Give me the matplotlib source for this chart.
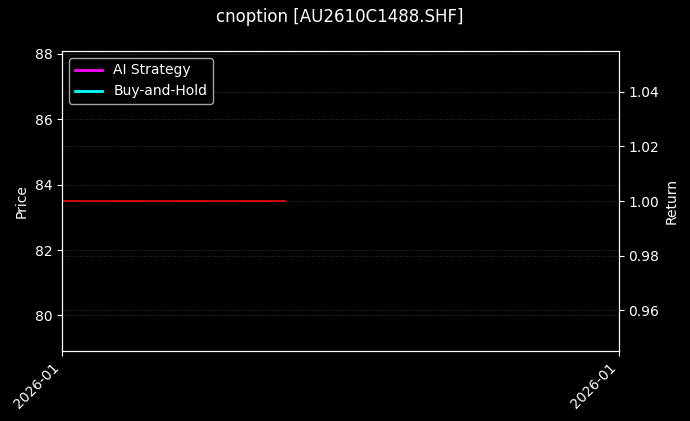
import matplotlib
matplotlib.use("Agg")
import matplotlib.pyplot as plt
import matplotlib.dates as mdates
import numpy as np
import pandas as pd

# data
title = "cnoption [AU2610C1488.SHF]"
price_dates = pd.to_datetime(["2026-01-05", "2026-01-07"])
price_values = [83.5, 83.5]
return_dates = pd.to_datetime(["2026-01-05"])
ai_returns = [1.0]
bh_returns = [1.0]
x_range = pd.to_datetime(["2026-01-05", "2026-01-10"])

plt.style.use("dark_background")

fig = plt.figure(figsize=(6.9, 4.21), dpi=100)
ax1 = fig.add_axes([0.0899, 0.166, 0.807, 0.713])
ax2 = ax1.twinx()

ax1.plot(price_dates, price_values, color="red", linewidth=1.2)
ax2.plot(return_dates, ai_returns, color="magenta", linewidth=2, label="AI Strategy")
ax2.plot(return_dates, bh_returns, color="cyan", linewidth=2, label="Buy-and-Hold")

p = price_values[0]
ax1.set_ylim(p * (1 - 0.055), p * (1 + 0.055))
r = ai_returns[0]
ax2.set_ylim(r * (1 - 0.055), r * (1 + 0.055))

ax1.set_xlim(x_range[0], x_range[1])
ax1.set_xticks(x_range)
ax1.xaxis.set_major_formatter(mdates.DateFormatter("%Y-%m"))
plt.setp(ax1.get_xticklabels(), rotation=45, ha="right")

ax1.grid(True, axis="y", linestyle=":", color="gray", alpha=0.5, linewidth=0.6)
ax2.grid(True, axis="y", linestyle=":", color="gray", alpha=0.5, linewidth=0.6)

ax1.set_ylabel("Price")
ax2.set_ylabel("Return")
ax2.legend(loc="upper left")

fig.suptitle(title, fontsize=12, x=0.492, y=0.98)

fig.savefig("out.png", dpi=100)
